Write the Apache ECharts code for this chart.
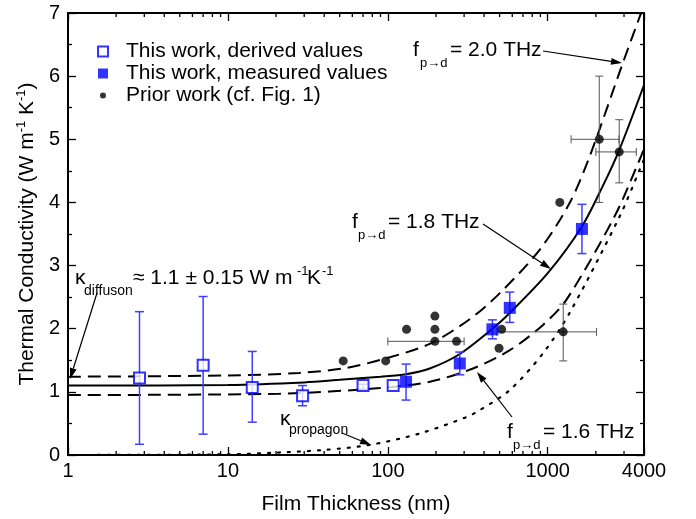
<!DOCTYPE html>
<html>
<head>
<meta charset="utf-8">
<script src="https://cdn.jsdelivr.net/npm/echarts@6/dist/echarts.min.js"></script>
<style>html,body{margin:0;padding:0;background:#fff;}#c{width:696px;height:519px;}</style>
</head>
<body>
<div id="c"></div>
<script>
// ---------------- data ----------------
const xTickLabels = [1, 10, 100, 1000, 4000];
const minorTickX = [2,3,4,5,6,7,8,9,20,30,40,50,60,70,80,90,200,300,400,500,600,700,800,900,2000,3000];

const derivedX  = [2.8, 7.0, 14.2, 29.3, 70, 108];
const derivedY  = [1.22, 1.42, 1.07, 0.94, 1.10, 1.10];
const derivedLo = [0.17, 0.33, 0.52, 0.78, 1.04, 1.10];
const derivedHi = [2.27, 2.51, 1.64, 1.10, 1.12, 1.10];

const measuredX  = [130, 282, 451, 579, 1637];
const measuredY  = [1.16, 1.45, 1.99, 2.33, 3.58];
const measuredLo = [0.87, 1.27, 1.84, 2.10, 3.19];
const measuredHi = [1.44, 1.63, 2.14, 2.58, 3.97];

const priorX = [52.6, 97, 131, 197, 197, 197, 269, 496, 515, 1190, 1250, 2100, 2800];
const priorY = [1.49, 1.49, 1.99, 2.20, 1.99, 1.80, 1.80, 1.69, 1.99, 4.00, 1.95, 5.00, 4.80];

const priorErrX   = [197, 1250, 2100, 2800];
const priorErrY   = [1.80, 1.95, 5.00, 4.80];
const priorErrXLo = [100, 480, 1400, 2000];
const priorErrXHi = [300, 2020, 2790, 3580];
const priorErrYLo = [null, 1.49, 4.00, 4.31];
const priorErrYHi = [null, 2.39, 6.00, 5.31];

const curve18X = [1, 10, 30, 50, 90, 130, 183, 282, 451, 579, 1000, 1637, 2200, 2800, 4000];
const curve18Y = [1.10, 1.11, 1.15, 1.19, 1.24, 1.28, 1.37, 1.60, 2.00, 2.25, 2.88, 3.62, 4.25, 4.83, 5.86];

const curve20X = [1, 10, 28, 55, 97, 183, 325, 500, 890, 1370, 1830, 2950, 3900];
const curve20Y = [1.24, 1.26, 1.30, 1.38, 1.53, 1.76, 2.15, 2.56, 3.25, 3.99, 4.73, 6.21, 7.05];

const curve16X = [1, 21, 89, 183, 341, 580, 934, 1310, 2620, 3760, 4000];
const curve16Y = [0.95, 0.97, 1.06, 1.16, 1.37, 1.66, 2.06, 2.46, 3.78, 4.68, 4.85];

const propX = [1, 10, 21, 40, 77, 158, 310, 376, 580, 934, 1370, 2820, 3760, 4000];
const propY = [0.00, 0.01, 0.04, 0.08, 0.16, 0.34, 0.60, 0.71, 1.03, 1.61, 2.25, 3.78, 4.52, 4.68];

// ---------------- helpers ----------------
const FF = '"Liberation Sans", Arial, Helvetica, sans-serif';
const zip = (a, b) => a.map((v, i) => [v, b[i]]);
const BLUE = '#0000ff';
const EBLUE = '#3f3fff';

function txt(x, y, text, size) {
  return { type: 'text', x: x, y: y, z: 50,
    style: { text: text, fontSize: size, fontFamily: FF, fill: '#000', align: 'left', verticalAlign: 'middle' } };
}
function arrow(x1, y1, x2, y2) {
  const dx = x2 - x1, dy = y2 - y1, L = Math.sqrt(dx*dx + dy*dy);
  const ux = dx / L, uy = dy / L, px = -uy, py = ux;
  const hl = 11, hw = 3.5;
  const bx = x2 - ux * hl, by = y2 - uy * hl;
  return [
    { type: 'line', z: 50, shape: { x1: x1, y1: y1, x2: bx, y2: by }, style: { stroke: '#000', lineWidth: 1.2 } },
    { type: 'polygon', z: 50, shape: { points: [[x2, y2], [bx + px*hw, by + py*hw], [bx - px*hw, by - py*hw]] }, style: { fill: '#000' } }
  ];
}

const vErrRender = (color, cap, lw) => function (params, api) {
  const lo = api.value(2), hi = api.value(3);
  if (lo == null || hi == null || lo === hi) return null;
  const x = api.value(0);
  const p1 = api.coord([x, lo]), p2 = api.coord([x, hi]);
  const st = { stroke: color, lineWidth: lw };
  return { type: 'group', children: [
    { type: 'line', shape: { x1: p1[0], y1: p1[1], x2: p2[0], y2: p2[1] }, style: st },
    { type: 'line', shape: { x1: p1[0]-cap, y1: p1[1], x2: p1[0]+cap, y2: p1[1] }, style: st },
    { type: 'line', shape: { x1: p2[0]-cap, y1: p2[1], x2: p2[0]+cap, y2: p2[1] }, style: st }
  ]};
};

function priorErrRender(params, api) {
  const x = api.value(0), y = api.value(1);
  const xl = api.value(2), xh = api.value(3), yl = api.value(4), yh = api.value(5);
  const st = { stroke: '#555', lineWidth: 1 };
  const cap = 4;
  const ch = [];
  const a = api.coord([xl, y]), b = api.coord([xh, y]);
  ch.push({ type: 'line', shape: { x1: a[0], y1: a[1], x2: b[0], y2: b[1] }, style: st });
  ch.push({ type: 'line', shape: { x1: a[0], y1: a[1]-cap, x2: a[0], y2: a[1]+cap }, style: st });
  ch.push({ type: 'line', shape: { x1: b[0], y1: b[1]-cap, x2: b[0], y2: b[1]+cap }, style: st });
  if (!isNaN(yl) && !isNaN(yh) && yl != null && yh != null) {
    const c = api.coord([x, yl]), d = api.coord([x, yh]);
    ch.push({ type: 'line', shape: { x1: c[0], y1: c[1], x2: d[0], y2: d[1] }, style: st });
    ch.push({ type: 'line', shape: { x1: c[0]-cap, y1: c[1], x2: c[0]+cap, y2: c[1] }, style: st });
    ch.push({ type: 'line', shape: { x1: d[0]-cap, y1: d[1], x2: d[0]+cap, y2: d[1] }, style: st });
  }
  return { type: 'group', children: ch };
}

function minorTickRender(params, api) {
  const x = api.value(0);
  const b = api.coord([x, 0]), t = api.coord([x, 7]);
  const st = { stroke: '#000', lineWidth: 1.3 };
  return { type: 'group', children: [
    { type: 'line', shape: { x1: b[0], y1: b[1], x2: b[0], y2: b[1] - 4 }, style: st },
    { type: 'line', shape: { x1: t[0], y1: t[1], x2: t[0], y2: t[1] + 4 }, style: st }
  ]};
}

// ---------------- chart ----------------
const chart = echarts.init(document.getElementById('c'), null, { renderer: 'canvas' });

const axisCommon = {
  axisLine: { show: true, onZero: false, lineStyle: { color: '#000', width: 2 } },
  axisTick: { show: true, inside: true, length: 8, lineStyle: { color: '#000', width: 1.3 } },
  splitLine: { show: false }
};

const graphicEls = [].concat(
  [txt(413, 50, 'f', 21), txt(420, 63, 'p\u2192d', 13), txt(450, 50, '= 2.0 THz', 21)],
  arrow(543, 51, 622, 63),
  [txt(352, 222, 'f', 21), txt(358, 235, 'p\u2192d', 13), txt(388, 222, '= 1.8 THz', 21)],
  arrow(483, 224, 551, 269),
  [txt(507, 432, 'f', 21), txt(513, 445, 'p\u2192d', 13), txt(543, 432, '= 1.6 THz', 21)],
  arrow(512, 417, 477, 372),
  [txt(75, 278, '\u03ba', 21), txt(84, 291, 'diffuson', 14), txt(133, 278, '\u2248 1.1 \u00b1 0.15 W m', 21),
   txt(297, 271, '-1', 13), txt(307, 278, 'K', 21), txt(322, 271, '-1', 13)],
  arrow(97, 293, 70, 379),
  [txt(280, 419, '\u03ba', 21), txt(289, 430, 'propagon', 14)],
  arrow(342, 433, 371, 445)
);

const option = {
  animation: false,
  backgroundColor: '#fff',
  grid: { left: 68, right: 52, top: 13, bottom: 64, containLabel: false, outerBoundsMode: 'none' },
  legend: {
    orient: 'vertical', left: 92, top: 36, itemGap: 1,
    itemWidth: 10, itemHeight: 10,
    textStyle: { fontSize: 21, fontFamily: FF, color: '#000', padding: [0, 0, 0, 13] },
    data: [
      { name: 'This work, derived values' },
      { name: 'This work, measured values' },
      { name: 'Prior work (cf. Fig. 1)', icon: 'path://M0,0L0.01,0M10,10L10.01,10M5,2A3,3,0,1,1,4.99,2Z' }
    ]
  },
  xAxis: [
    Object.assign({}, axisCommon, {
      type: 'log', logBase: 10, min: 1, max: 4000, position: 'bottom',
      name: 'Film Thickness (nm)', nameLocation: 'middle', nameGap: 39,
      nameTextStyle: { fontSize: 21, fontFamily: FF, color: '#000' },
      axisLabel: { show: true, fontSize: 20, fontFamily: FF, color: '#000', margin: 6,
        formatter: v => { const r = Math.round(v); return xTickLabels.indexOf(r) >= 0 ? String(r) : ''; } }
    }),
    Object.assign({}, axisCommon, {
      type: 'log', logBase: 10, min: 1, max: 4000, position: 'top',
      axisLabel: { show: false }
    })
  ],
  yAxis: [
    Object.assign({}, axisCommon, {
      type: 'value', min: 0, max: 7, interval: 1, position: 'left',
      minorTick: { show: true, splitNumber: 2, length: 4, lineStyle: { color: '#000', width: 1.3 } },
      axisLabel: { fontSize: 20, fontFamily: FF, color: '#000', margin: 8 },
      name: '{a|Thermal Conductivity (W m}{s|-1}{a| K}{s|-1}{a|)}',
      nameLocation: 'middle', nameRotate: 90, nameGap: 25,
      nameTextStyle: { rich: {
        a: { fontSize: 21, fontFamily: FF, color: '#000', lineHeight: 26 },
        s: { fontSize: 13, fontFamily: FF, color: '#000', lineHeight: 14, verticalAlign: 'top' }
      } }
    }),
    Object.assign({}, axisCommon, {
      type: 'value', min: 0, max: 7, interval: 1, position: 'right',
      minorTick: { show: true, splitNumber: 2, length: 4, lineStyle: { color: '#000', width: 1.3 } },
      axisLabel: { show: false }
    })
  ],
  series: [
    { type: 'custom', name: 'minorTicks', silent: true, clip: false, renderItem: minorTickRender,
      data: minorTickX.map(v => [v, 0]), z: 5 },
    { type: 'line', name: 'f2.0', data: zip(curve20X, curve20Y), showSymbol: false, smooth: 0.3, z: 3,
      lineStyle: { color: '#000', width: 2, type: [13, 7] } },
    { type: 'line', name: 'f1.8', data: zip(curve18X, curve18Y), showSymbol: false, smooth: 0.3, z: 3,
      lineStyle: { color: '#000', width: 2 } },
    { type: 'line', name: 'f1.6', data: zip(curve16X, curve16Y), showSymbol: false, smooth: 0.3, z: 3,
      lineStyle: { color: '#000', width: 2, type: [13, 7] } },
    { type: 'line', name: 'propagon', data: zip(propX, propY), showSymbol: false, smooth: 0.3, z: 3,
      lineStyle: { color: '#000', width: 2.2, type: [2, 8], cap: 'round' } },
    { type: 'custom', name: 'priorErr', renderItem: priorErrRender, z: 4,
      data: priorErrX.map((x, i) => [x, priorErrY[i], priorErrXLo[i], priorErrXHi[i], priorErrYLo[i], priorErrYHi[i]]) },
    { type: 'custom', name: 'derivedErr', renderItem: vErrRender(EBLUE, 4.5, 1.5), z: 4,
      data: derivedX.map((x, i) => [x, derivedY[i], derivedLo[i], derivedHi[i]]) },
    { type: 'custom', name: 'measuredErr', renderItem: vErrRender(EBLUE, 4.5, 1.5), z: 4,
      data: measuredX.map((x, i) => [x, measuredY[i], measuredLo[i], measuredHi[i]]) },
    { type: 'scatter', name: 'Prior work (cf. Fig. 1)', data: zip(priorX, priorY), symbol: 'circle', symbolSize: 9, z: 6,
      itemStyle: { color: '#000' } },
    { type: 'scatter', name: 'This work, derived values', data: zip(derivedX, derivedY), symbol: 'rect', symbolSize: 11, z: 7,
      itemStyle: { color: '#fff', borderColor: BLUE, borderWidth: 2 } },
    { type: 'scatter', name: 'This work, measured values', data: zip(measuredX, measuredY), symbol: 'rect', symbolSize: 12, z: 7,
      itemStyle: { color: BLUE } }
  ],
  graphic: { elements: graphicEls }
};
chart.setOption(option);
</script>
</body>
</html>
